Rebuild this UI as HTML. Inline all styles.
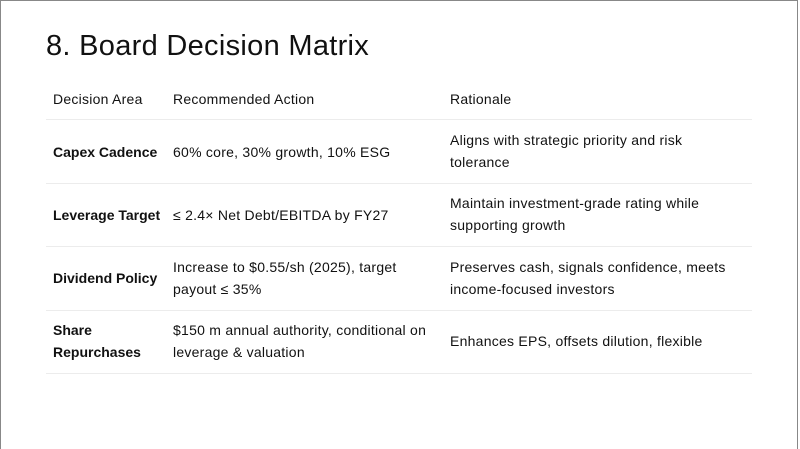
<!DOCTYPE html>
<html><head><style>
html,body{margin:0;padding:0;background:#fff}
body{width:800px;height:449px;position:relative;overflow:hidden;font-family:"Liberation Sans",sans-serif;color:#111}
.frame{position:absolute;left:0;top:0;width:798px;height:449px;border-left:1px solid #888;border-top:1px solid #888;border-right:1px solid #888;box-sizing:border-box}
h1{position:absolute;left:46px;top:30px;margin:0;font-weight:normal;font-size:29px;letter-spacing:0.3px}
.t{position:absolute;font-size:14px;line-height:22px;letter-spacing:0.25px;white-space:nowrap}
.b{font-weight:bold;letter-spacing:0}
.line{position:absolute;left:46px;width:706px;height:1px;background:#ececec}
</style></head><body>
<div class="frame"></div>
<h1>8. Board Decision Matrix</h1>
<div class="t" style="left:53px;top:88px">Decision Area</div>
<div class="t" style="left:173px;top:88px">Recommended Action</div>
<div class="t" style="left:450px;top:88px">Rationale</div>
<div class="line" style="top:119px"></div>

<div class="t b" style="left:53px;top:141px">Capex Cadence</div>
<div class="t" style="left:173px;top:141px">60% core, 30% growth, 10% ESG</div>
<div class="t" style="left:450px;top:129px">Aligns with strategic priority and risk<br>tolerance</div>
<div class="line" style="top:183px"></div>

<div class="t b" style="left:53px;top:204px">Leverage Target</div>
<div class="t" style="left:173px;top:204px">≤ 2.4× Net Debt/EBITDA by FY27</div>
<div class="t" style="left:450px;top:192px">Maintain investment-grade rating while<br>supporting growth</div>
<div class="line" style="top:246px"></div>

<div class="t b" style="left:53px;top:267px">Dividend Policy</div>
<div class="t" style="left:173px;top:256px">Increase to $0.55/sh (2025), target<br>payout ≤ 35%</div>
<div class="t" style="left:450px;top:256px">Preserves cash, signals confidence, meets<br>income-focused investors</div>
<div class="line" style="top:310px"></div>

<div class="t b" style="left:53px;top:319px">Share<br>Repurchases</div>
<div class="t" style="left:173px;top:319px">$150 m annual authority, conditional on<br>leverage &amp; valuation</div>
<div class="t" style="left:450px;top:330px">Enhances EPS, offsets dilution, flexible</div>
<div class="line" style="top:373px"></div>
</body></html>
